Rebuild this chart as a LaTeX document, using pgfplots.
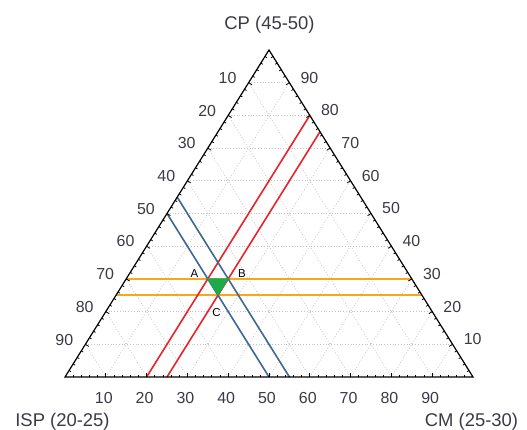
\documentclass[border=0pt]{standalone}
\usepackage{fontspec}
\setmainfont{Liberation Sans}
\usepackage{pgfplots}
\pgfplotsset{compat=1.18}
\usepackage{pgfplotstable}
\usetikzlibrary{calc}
\definecolor{lred}{HTML}{E8232B}
\definecolor{lblue}{HTML}{3D6894}
\definecolor{lyel}{HTML}{F5A81C}
\definecolor{lgreen}{HTML}{1DAA4C}
\definecolor{txt}{HTML}{3A3A44}
\definecolor{gridc}{HTML}{C4C4C4}

% ternary data: CP (top vertex fraction), CM (bottom-right vertex fraction)
\pgfplotstableread{
CP CM
0.00 0.20
0.80 0.20
}\tabRedOne
\pgfplotstableread{
CP CM
0.00 0.25
0.75 0.25
}\tabRedTwo
\pgfplotstableread{
CP CM
0.00 0.50
0.50 0.00
}\tabBlueOne
\pgfplotstableread{
CP CM
0.00 0.55
0.55 0.00
}\tabBlueTwo
\pgfplotstableread{
CP CM
0.30 0.00
0.30 0.70
}\tabYelOne
\pgfplotstableread{
CP CM
0.25 0.00
0.25 0.75
}\tabYelTwo
\pgfplotstableread{
CP CM
0.30 0.20
0.30 0.25
0.25 0.25
0.30 0.20
}\tabRegion

\pgfplotsset{table/tern/.style={x expr=\thisrow{CM}+0.5*\thisrow{CP}, y expr=\thisrow{CP}}}

\begin{document}
\begin{tikzpicture}
\begin{axis}[x=408bp, y=327bp, xmin=0, xmax=1, ymin=0, ymax=1,
  hide axis, clip=false]
  \path (axis cs:-0.15931,-0.16208) rectangle (axis cs:1.13235,1.15291);
  % grid
  \addplot[gridc, dotted, line width=0.8bp, unbounded coords=jump] coordinates {
    (0.05,0.1)(0.95,0.1)(nan,nan)(0.1,0.2)(0.9,0.2)(nan,nan)
    (0.15,0.3)(0.85,0.3)(nan,nan)(0.2,0.4)(0.8,0.4)(nan,nan)
    (0.25,0.5)(0.75,0.5)(nan,nan)(0.3,0.6)(0.7,0.6)(nan,nan)
    (0.35,0.7)(0.65,0.7)(nan,nan)(0.4,0.8)(0.6,0.8)(nan,nan)
    (0.45,0.9)(0.55,0.9)};
  \addplot[gridc, dotted, line width=0.8bp, unbounded coords=jump] coordinates {
    (0.1,0)(0.55,0.9)(nan,nan)(0.2,0)(0.6,0.8)(nan,nan)
    (0.3,0)(0.65,0.7)(nan,nan)(0.4,0)(0.7,0.6)(nan,nan)
    (0.5,0)(0.75,0.5)(nan,nan)(0.6,0)(0.8,0.4)(nan,nan)
    (0.7,0)(0.85,0.3)(nan,nan)(0.8,0)(0.9,0.2)(nan,nan)
    (0.9,0)(0.95,0.1)};
  \addplot[gridc, dotted, line width=0.8bp, unbounded coords=jump] coordinates {
    (0.1,0)(0.05,0.1)(nan,nan)(0.2,0)(0.1,0.2)(nan,nan)
    (0.3,0)(0.15,0.3)(nan,nan)(0.4,0)(0.2,0.4)(nan,nan)
    (0.5,0)(0.25,0.5)(nan,nan)(0.6,0)(0.3,0.6)(nan,nan)
    (0.7,0)(0.35,0.7)(nan,nan)(0.8,0)(0.4,0.8)(nan,nan)
    (0.9,0)(0.45,0.9)};
  % constraint lines
  \addplot[color=lyel, line width=2bp] table[tern] {\tabYelOne};
  \addplot[color=lyel, line width=2bp] table[tern] {\tabYelTwo};
  \addplot[color=lred, line width=1.6bp] table[tern] {\tabRedOne};
  \addplot[color=lred, line width=1.6bp] table[tern] {\tabRedTwo};
  \addplot[color=lblue, line width=1.6bp] table[tern] {\tabBlueOne};
  \addplot[color=lblue, line width=1.6bp] table[tern] {\tabBlueTwo};
  % feasible region
  \addplot[draw=lgreen, fill=lgreen, line width=0.8bp] table[tern] {\tabRegion} -- cycle;
  % triangle frame
  \addplot[black, line width=1.2bp] coordinates {(0,0)(1,0)(0.5,1)(0,0)} -- cycle;
  \coordinate (L) at (axis cs:0,0);
  \coordinate (R) at (axis cs:1,0);
  \coordinate (T) at (axis cs:0.5,1);
  \node[font=\fontsize{11.5}{13}\selectfont, text=black, inner sep=0, xshift=-13.3bp, yshift=4.9bp] at (axis cs:0.35,0.3) {A};
  \node[font=\fontsize{11.5}{13}\selectfont, text=black, inner sep=0, xshift=13.8bp, yshift=4.9bp] at (axis cs:0.4,0.3) {B};
  \node[font=\fontsize{11.5}{13}\selectfont, text=black, inner sep=0, xshift=-1.5bp, yshift=-17.8bp] at (axis cs:0.375,0.25) {C};
  \node[font=\fontsize{18.5}{22}\selectfont, text=txt, inner sep=0, anchor=base] at (axis cs:0.50123,1.0612) {CP (45-50)};
  \node[font=\fontsize{18.5}{22}\selectfont, text=txt, inner sep=0, anchor=base] at (axis cs:-0.00613,-0.14985) {ISP (20-25)};
  \node[font=\fontsize{18.5}{22}\selectfont, text=txt, inner sep=0, anchor=base] at (axis cs:0.99632,-0.14985) {CM (25-30)};
\end{axis}
% tick marks
\foreach \i in {1,...,49} {
  \pgfmathsetmacro\f{\i/50}
  \pgfmathsetmacro\len{mod(\i,5)==0 ? 4 : 2.3}
  \draw[line width=0.8bp] ($(L)!\f!(R)$) -- ($($(L)!\f!(R)$)!\len bp!90:(R)$);
  \draw[line width=0.8bp] ($(R)!\f!(T)$) -- ($($(R)!\f!(T)$)!\len bp!90:(T)$);
  \draw[line width=0.8bp] ($(T)!\f!(L)$) -- ($($(T)!\f!(L)$)!\len bp!90:(L)$);
}
% tick labels
\foreach \k in {1,...,9} {
  \pgfmathsetmacro\f{\k/10}
  \pgfmathtruncatemacro\rv{100-10*\k}
  \node[font=\fontsize{16}{19}\selectfont, text=txt, inner sep=0, anchor=east, xshift=-12bp, yshift=4.7bp] at ($(T)!\f!(L)$) {\k0};
  \node[font=\fontsize{16}{19}\selectfont, text=txt, inner sep=0, anchor=west, xshift=11bp, yshift=5bp] at ($(T)!\f!(R)$) {\rv};
  \node[font=\fontsize{16}{19}\selectfont, text=txt, inner sep=0, anchor=base, xshift=-2bp, yshift=-26.3bp] at ($(L)!\f!(R)$) {\k0};
}
\end{tikzpicture}
\end{document}
